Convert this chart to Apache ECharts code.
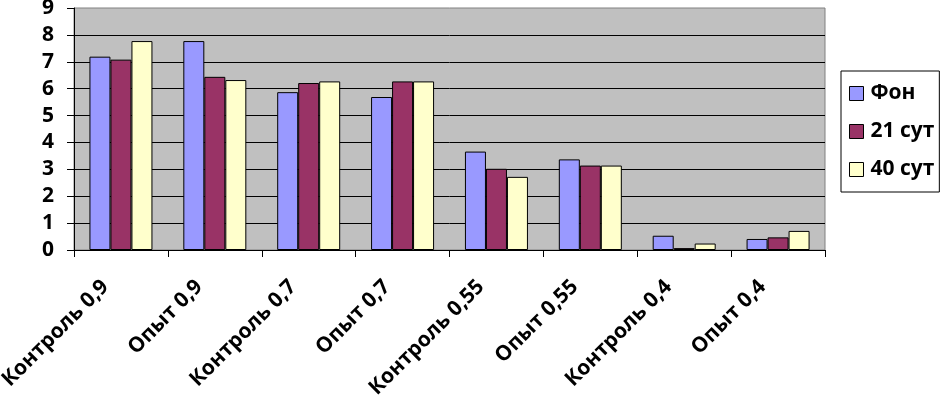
<!DOCTYPE html>
<html>
<head>
<meta charset="utf-8">
<script src="https://cdn.jsdelivr.net/npm/echarts@6/dist/echarts.min.js"></script>
<style>
html,body{margin:0;padding:0;background:#fff;}
#main{width:942px;height:398px;}
</style>
</head>
<body>
<div id="main"></div>
<script>
var categories = ['Контроль 0,9', 'Опыт 0,9', 'Контроль 0,7', 'Опыт 0,7', 'Контроль 0,55', 'Опыт 0,55', 'Контроль 0,4', 'Опыт 0,4'];
var seriesNames = ['Фон', '21 сут', '40 сут'];
var fonValues = [7.19, 7.77, 5.87, 5.69, 3.66, 3.37, 0.53, 0.41];
var day21Values = [7.08, 6.44, 6.21, 6.27, 3.02, 3.14, 0.07, 0.47];
var day40Values = [7.77, 6.32, 6.27, 6.27, 2.72, 3.14, 0.24, 0.71];
var yTicks = [0, 1, 2, 3, 4, 5, 6, 7, 8, 9];
var colors = ['#9999FF', '#993366', '#FFFFCC'];

var fontName = '"Open Sans", "Noto Sans", sans-serif';

function makeSeries(name, data, color) {
    return {
        name: name,
        type: 'bar',
        data: data,
        barWidth: 21,
        barGap: '0%',
        itemStyle: { color: color, borderColor: '#000', borderWidth: 1 }
    };
}

var myChart = echarts.init(document.getElementById('main'));
var option = {
    animation: false,
    backgroundColor: '#fff',
    textStyle: { fontFamily: fontName },
    grid: {
        show: true,
        left: 74,
        right: 117,
        top: 8,
        bottom: 148,
        containLabel: false,
        outerBoundsMode: 'none',
        backgroundColor: '#C0C0C0',
        borderColor: '#808080',
        borderWidth: 1
    },
    legend: {
        orient: 'vertical',
        left: 841,
        top: 71,
        padding: [12, 5, 12, 8],
        itemGap: 17,
        itemWidth: 14,
        itemHeight: 14,
        backgroundColor: '#fff',
        borderColor: '#000',
        borderWidth: 1,
        borderRadius: 0,
        icon: 'rect',
        itemStyle: { borderColor: '#000', borderWidth: 1 },
        textStyle: { fontFamily: fontName, fontWeight: 'bold', fontSize: 21, color: '#000', padding: [0, 0, 0, 2] },
        data: seriesNames
    },
    xAxis: {
        type: 'category',
        data: categories,
        boundaryGap: true,
        axisLine: { lineStyle: { color: '#000', width: 1 } },
        axisTick: { show: true, length: 7, lineStyle: { color: '#000' } },
        axisLabel: {
            rotate: 45,
            margin: 18,
            padding: [0, 22, 0, 0],
            interval: 0,
            color: '#000',
            fontSize: 21,
            fontWeight: 'bold',
            fontFamily: fontName
        }
    },
    yAxis: {
        type: 'value',
        min: yTicks[0],
        max: yTicks[yTicks.length - 1],
        interval: 1,
        axisLine: { show: true, lineStyle: { color: '#000', width: 1 } },
        axisTick: { show: true, length: 7, lineStyle: { color: '#000' } },
        axisLabel: {
            margin: 20,
            color: '#000',
            fontSize: 21,
            fontWeight: 'bold',
            fontFamily: fontName
        },
        splitLine: { show: true, showMaxLine: false, lineStyle: { color: '#000', width: 1 } }
    },
    series: [
        makeSeries(seriesNames[0], fonValues, colors[0]),
        makeSeries(seriesNames[1], day21Values, colors[1]),
        makeSeries(seriesNames[2], day40Values, colors[2])
    ]
};
myChart.setOption(option);
</script>
</body>
</html>
